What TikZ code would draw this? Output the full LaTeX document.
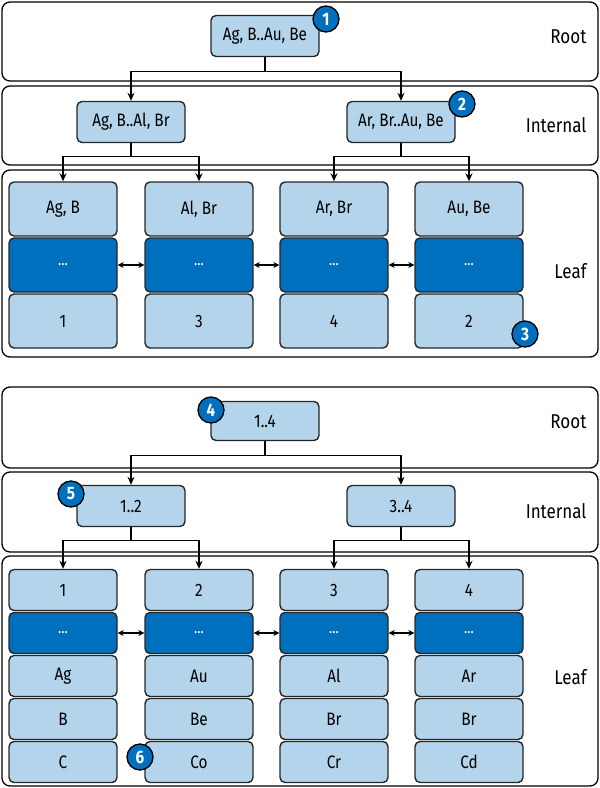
\documentclass[tikz,border=0pt]{standalone}
\usepackage{fontspec}
\setmainfont{Fira Sans}[FakeStretch=0.85]
\usetikzlibrary{arrows.meta}
\definecolor{lightkey}{HTML}{B3D4EA}
\definecolor{darkkey}{HTML}{0070BE}
\tikzstyle{panel} = [
    draw=black,
    line width=1.3pt,
    rounded corners=8pt
]
\tikzstyle{keybox} = [
    rectangle,
    rounded corners=5pt,
    minimum width=108pt,
    minimum height=41pt,
    inner sep=0pt,
    fill=lightkey,
    draw=black!85,
    line width=1.4pt
]
\tikzstyle{ptrbox} = [
    keybox,
    fill=darkkey,
    text=white,
    font=\fontsize{16}{18}\selectfont
]
\tikzstyle{badge} = [
    circle,
    minimum size=26pt,
    inner sep=0pt,
    fill=darkkey,
    draw=black,
    line width=1.3pt,
    text=white,
    font=\fontsize{18}{20}\selectfont\bfseries
]
\tikzstyle{level} = [anchor=east, font=\fontsize{20}{24}\selectfont]
\tikzstyle{arrow} = [line width=1.4pt, -{Stealth[length=8pt,width=7pt]}]
\tikzstyle{link} = [line width=1.4pt, {Stealth[length=6pt,width=6pt]}-{Stealth[length=6pt,width=6pt]}]

\begin{document}
\begin{tikzpicture}[x=1pt, y=-1pt, font=\fontsize{18}{21}\selectfont]

\useasboundingbox (0,0) rectangle (600,788);

% keys as the index
\draw [panel] (2,2) rectangle (598,81);
\draw [panel] (2,86) rectangle (598,165);
\draw [panel] (2,170) rectangle (598,357);

\node (rootA) [keybox] at (265,36) {Ag, B..Au, Be};
\node (intlA1) [keybox] at (131,122) {Ag, B..Al, Br};
\node (intlA2) [keybox] at (401,122) {Ar, Br..Au, Be};

\foreach \x/\lbl/\page [count=\i] in {63/{Ag, B}/1, 199/{Al, Br}/3, 334/{Ar, Br}/4, 469/{Au, Be}/2} {
    \node (keysA\i) [keybox, minimum height=54pt] at (\x,209) {\lbl};
    \node (ptrA\i) [ptrbox, minimum height=54pt] at (\x,265) {...};
    \node (pageA\i) [keybox, minimum height=54pt] at (\x,321) {\page};
}

\draw [arrow] (rootA.south) -- ++(0,14) -| (intlA1.north);
\draw [arrow] (rootA.south) -- ++(0,14) -| (intlA2.north);
\draw [arrow] (intlA1.south) -- ++(0,13) -| (keysA1.north);
\draw [arrow] (intlA1.south) -- ++(0,13) -| (keysA2.north);
\draw [arrow] (intlA2.south) -- ++(0,13) -| (keysA3.north);
\draw [arrow] (intlA2.south) -- ++(0,13) -| (keysA4.north);
\foreach \i/\j in {1/2, 2/3, 3/4}
    \draw [link] (ptrA\i) -- (ptrA\j);

\node (rootlblA) [level] at (590,37) {Root};
\node (intllblA) [level] at (590,125) {Internal};
\node (leaflblA) [level] at (590,271) {Leaf};

\node (badge1) [badge] at (326,19) {1};
\node (badge2) [badge] at (462,104) {2};
\node (badge3) [badge] at (525,334) {3};

% pages as the index
\draw [panel] (2,387) rectangle (598,468);
\draw [panel] (2,472) rectangle (598,552);
\draw [panel] (2,556) rectangle (598,786);

\node (rootB) [keybox, minimum height=39pt] at (265,421) {1..4};
\node (intlB1) [keybox] at (131,506) {1..2};
\node (intlB2) [keybox] at (401,506) {3..4};

\foreach \x/\page/\a/\b/\c [count=\i] in {63/1/Ag/B/C, 199/2/Au/Be/Co, 334/3/Al/Br/Cr, 469/4/Ar/Br/Cd} {
    \node (pageB\i) [keybox] at (\x,590) {\page};
    \node (ptrB\i) [ptrbox] at (\x,633) {...};
    \node (keyB\i a) [keybox] at (\x,676) {\a};
    \node (keyB\i b) [keybox] at (\x,719) {\b};
    \node (keyB\i c) [keybox] at (\x,762) {\c};
}

\draw [arrow] (rootB.south) -- ++(0,14) -| (intlB1.north);
\draw [arrow] (rootB.south) -- ++(0,14) -| (intlB2.north);
\draw [arrow] (intlB1.south) -- ++(0,13) -| (pageB1.north);
\draw [arrow] (intlB1.south) -- ++(0,13) -| (pageB2.north);
\draw [arrow] (intlB2.south) -- ++(0,13) -| (pageB3.north);
\draw [arrow] (intlB2.south) -- ++(0,13) -| (pageB4.north);
\foreach \i/\j in {1/2, 2/3, 3/4}
    \draw [link] (ptrB\i) -- (ptrB\j);

\node (rootlblB) [level] at (590,422) {Root};
\node (intllblB) [level] at (590,511) {Internal};
\node (leaflblB) [level] at (590,677) {Leaf};

\node (badge4) [badge] at (211,410) {4};
\node (badge5) [badge] at (71,494) {5};
\node (badge6) [badge] at (140,757) {6};

\end{tikzpicture}
\end{document}
